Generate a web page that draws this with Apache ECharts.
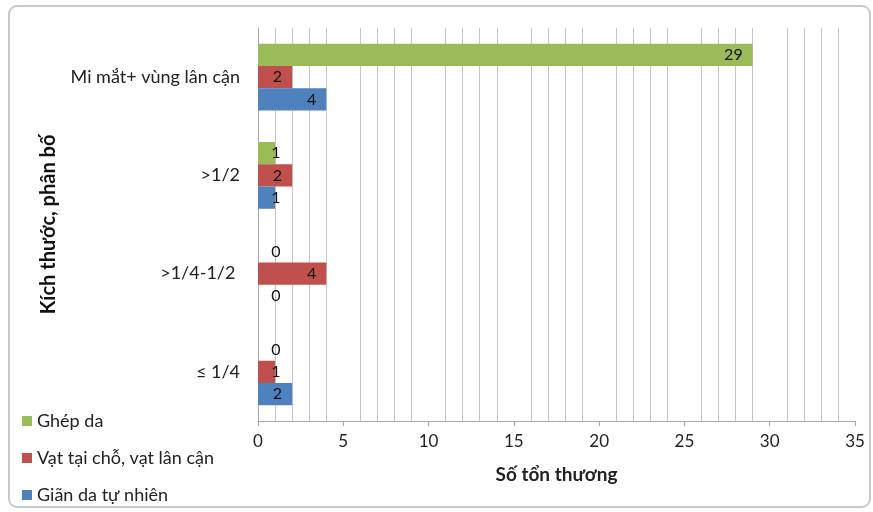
<!DOCTYPE html>
<html>
<head>
<meta charset="utf-8">
<script src="https://cdn.jsdelivr.net/npm/echarts@6/dist/echarts.min.js"></script>
<style>html,body{margin:0;padding:0;background:#fff}#c{width:873px;height:512px}</style>
</head>
<body>
<div id="c"></div>
<script>
// Categories bottom-to-top (ECharts category y-axis starts at the bottom)
var categories = ['≤ 1/4', '>1/4-1/2 ', '>1/2', 'Mi mắt+ vùng lân cận'];
var seriesNames = ['Ghép da', 'Vạt tại chỗ, vạt lân cận', 'Giãn da tự nhiên'];
var ghepDa = [0, 0, 1, 29];
var vatTaiCho = [1, 4, 2, 2];
var gianDa = [2, 0, 1, 4];
var xTicks = [0, 5, 10, 15, 20, 25, 30, 35];

var colors = {
  'Ghép da': '#9bbb59',
  'Vạt tại chỗ, vạt lân cận': '#c0504d',
  'Giãn da tự nhiên': '#4f81bd'
};
var FONT = 'Lato';

function toData(arr) {
  return arr.map(function (v) {
    var lbl;
    if (v <= 1) {
      lbl = { position: [18, '50%'], align: 'center', verticalAlign: 'middle' };
    } else {
      lbl = { position: 'insideRight', distance: 10 };
    }
    return { value: v, label: lbl };
  });
}

function makeSeries(name, arr) {
  return {
    name: name,
    type: 'bar',
    data: toData(arr),
    barGap: '0%',
    barCategoryGap: '32%',
    itemStyle: { color: colors[name] },
    label: {
      show: true,
      color: '#111',
      fontFamily: FONT,
      fontSize: 16
    }
  };
}

var chart = echarts.init(document.getElementById('c'));
chart.setOption({
  animation: false,
  backgroundColor: '#fff',
  graphic: [{
    type: 'rect',
    shape: { x: 9, y: 6, width: 861, height: 501, r: 8 },
    style: { fill: 'none', stroke: '#c8c8c8', lineWidth: 2 },
    z: -1
  }],
  grid: { left: 258, right: 18, top: 28, bottom: 91, containLabel: false },
  legend: {
    orient: 'vertical',
    left: 17,
    top: 406,
    itemWidth: 10,
    itemHeight: 10,
    itemGap: 17,
    icon: 'rect',
    data: seriesNames,
    textStyle: { fontFamily: FONT, fontSize: 18, lineHeight: 20, color: '#222' }
  },
  xAxis: {
    type: 'value',
    min: 0,
    max: 35,
    interval: 5,
    name: 'Số tổn thương',
    nameLocation: 'middle',
    nameGap: 44,
    nameTextStyle: { fontFamily: FONT, fontSize: 19, fontWeight: 'bold', color: '#222' },
    axisLine: { show: true, lineStyle: { color: '#a6a6a6' } },
    axisTick: { show: true, length: 5, lineStyle: { color: '#a6a6a6' } },
    axisLabel: {
      margin: 12, fontFamily: FONT, fontSize: 17, color: '#222',
      formatter: function (v) { return xTicks.indexOf(v) >= 0 ? String(v) : ''; }
    },
    splitLine: { show: false },
    minorTick: { show: false, splitNumber: 5 },
    minorSplitLine: { show: true, lineStyle: { color: '#c4c4c4', width: 1 } }
  },
  yAxis: {
    type: 'category',
    data: categories,
    name: 'Kích thước, phân bố',
    nameLocation: 'middle',
    nameGap: 199,
    nameRotate: 90,
    nameTextStyle: { fontFamily: FONT, fontSize: 20, fontWeight: 'bold', color: '#111' },
    axisLine: { show: true, lineStyle: { color: '#a6a6a6' } },
    axisTick: { show: false },
    axisLabel: { margin: 18, fontFamily: FONT, fontSize: 18, color: '#222' },
    splitLine: { show: false }
  },
  series: [
    makeSeries('Ghép da', ghepDa),
    makeSeries('Vạt tại chỗ, vạt lân cận', vatTaiCho),
    makeSeries('Giãn da tự nhiên', gianDa)
  ]
});
</script>
</body>
</html>
